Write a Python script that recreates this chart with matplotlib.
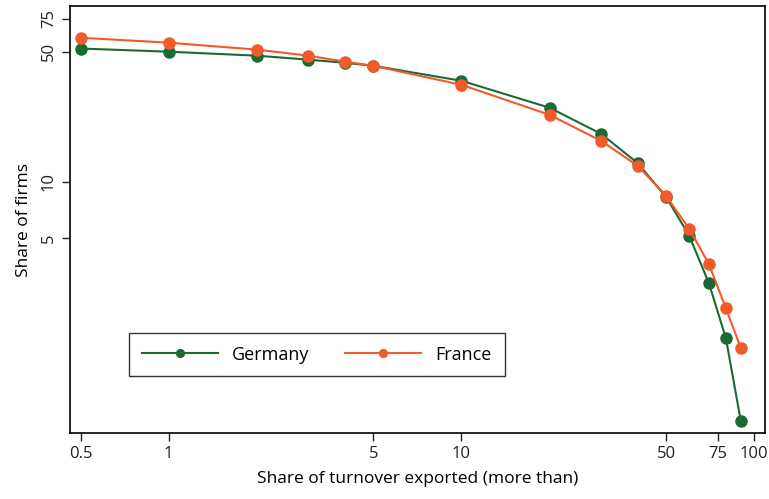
import matplotlib
matplotlib.use('Agg')
import matplotlib.pyplot as plt
from matplotlib.ticker import FixedLocator, NullLocator

plt.rcParams['font.family'] = ['Open Sans', 'DejaVu Sans']

# share of turnover exported (more than, %)
thresholds = [0.5, 1, 2, 3, 4, 5, 10, 20, 30, 40, 50, 60, 70, 80, 90]
# share of firms (%)
germany = [52, 50, 47.6, 45.3, 43.6, 42, 34.9, 25, 18.1, 12.6, 8.3, 5.13, 2.86, 1.45, 0.52]
france = [59.4, 55.9, 51.3, 47.6, 44.2, 42, 33.2, 22.9, 16.6, 12.2, 8.4, 5.59, 3.62, 2.10, 1.28]

xticks = [0.5, 1, 5, 10, 50, 75, 100]
xticklabels = ['0.5', '1', '5', '10', '50', '75', '100']
yticks = [5, 10, 50, 75]
yticklabels = ['5', '10', '50', '75']

green = '#1b6a33'
orange = '#f15a2a'

fig = plt.figure(figsize=(7.69, 4.99), dpi=100)
ax = fig.add_axes([0.091, 0.132, 0.904, 0.856])

ax.plot(thresholds, germany, '-o', color=green, lw=1.5, ms=8, label='Germany')
ax.plot(thresholds, france, '-o', color=orange, lw=1.5, ms=8, label='France')

ax.set_xscale('log')
ax.set_yscale('log')
ax.set_xlim(0.46, 109)
ax.set_ylim(0.447, 88)

ax.xaxis.set_major_locator(FixedLocator(xticks))
ax.xaxis.set_minor_locator(NullLocator())
ax.set_xticklabels(xticklabels)
ax.yaxis.set_major_locator(FixedLocator(yticks))
ax.yaxis.set_minor_locator(NullLocator())
ax.set_yticklabels(yticklabels, rotation=90, va='center')

ax.tick_params(axis='both', direction='out', length=6, width=1, labelsize=12, colors='#222222')
for s in ax.spines.values():
    s.set_linewidth(1.2)

ax.set_xlabel('Share of turnover exported (more than)', fontsize=12.5, labelpad=6)
ax.set_ylabel('Share of firms', fontsize=12.5, labelpad=6)

leg = ax.legend(ncol=2, loc='lower left', bbox_to_anchor=(0.085, 0.133),
                borderaxespad=0, fontsize=13, frameon=True, fancybox=False,
                edgecolor='black', handlelength=4.2, handletextpad=0.8,
                columnspacing=2.0, borderpad=0.7, markerscale=0.7)
leg.get_frame().set_linewidth(1.0)

fig.savefig('out.png', dpi=100)
